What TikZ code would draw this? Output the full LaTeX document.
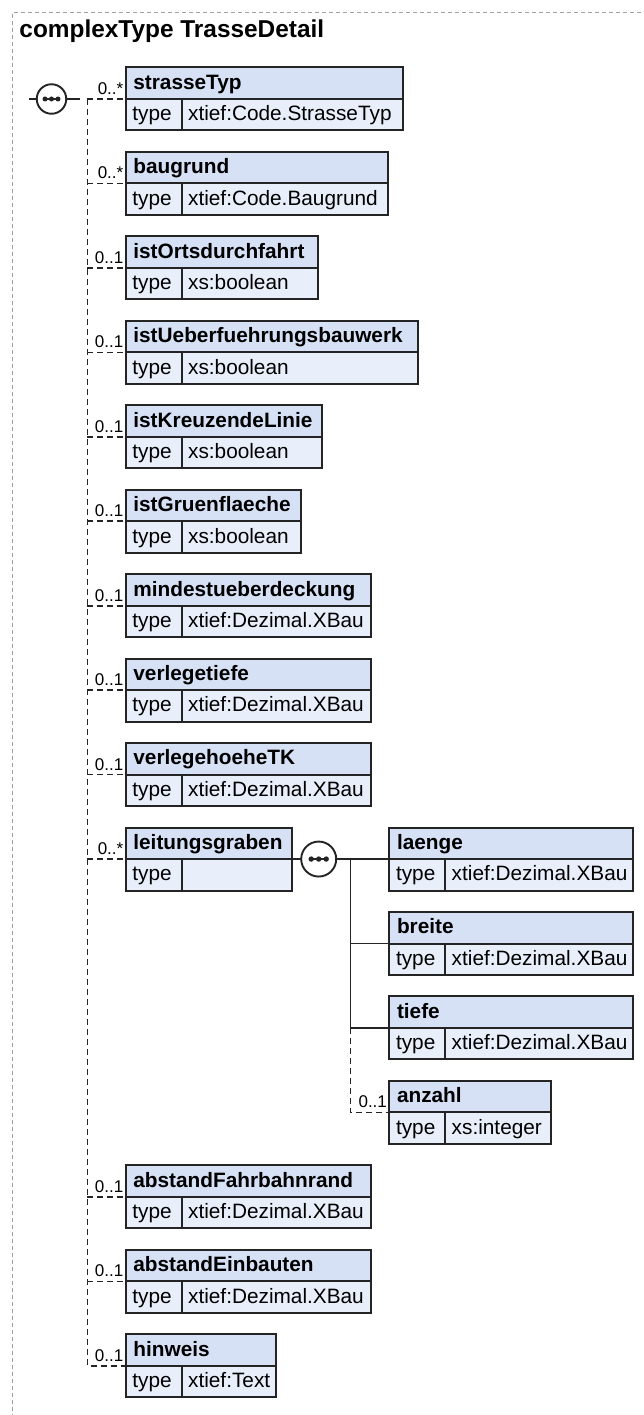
\documentclass[tikz,border=0pt]{standalone}
\usepackage{fontspec}
\setmainfont{Liberation Sans}
\definecolor{hdrc}{HTML}{D6E1F6}
\definecolor{typc}{HTML}{E9EFFA}
\definecolor{boxc}{HTML}{242424}
\definecolor{framec}{HTML}{A0A0A0}
\tikzset{
 hdrbox/.style={rectangle, draw=boxc, fill=hdrc, line width=2pt, anchor=north west, minimum height=31.5pt, inner sep=0pt, outer sep=0pt},
 typbox/.style={hdrbox, fill=typc},
 nametxt/.style={anchor=base west, inner sep=0pt, font=\fontsize{20.8}{25}\selectfont\bfseries},
 typetxt/.style={anchor=base west, inner sep=0pt, font=\fontsize{20.8}{25}\selectfont},
 multtxt/.style={anchor=base east, inner sep=0pt, font=\fontsize{17}{20}\selectfont},
 optc/.style={draw=boxc, line width=1.6pt, dash pattern=on 6pt off 4pt},
 reqc/.style={draw=boxc, line width=1.8pt},
 seqsym/.style={circle, draw=boxc, fill=white, line width=1.9pt, inner sep=0pt, outer sep=0pt},
 framel/.style={draw=framec, line width=1pt, dash pattern=on 4pt off 3pt},
}
% #1 id, #2 left, #3 top, #4 right, #5 name, #6 type
\newcommand\elembox[6]{%
  \node[hdrbox, minimum width={#4-#2}] (#1) at (#2,#3) {};
  \node[typbox, minimum width=56pt] (#1t) at (#1.south west) {};
  \node[typbox, minimum width={#4-#2-56}] (#1v) at (#1t.north east) {};
  \node[nametxt] (#1n) at ([xshift=7.5pt,yshift=-21.8pt]#1.north west) {#5};
  \node[typetxt] (#1k) at ([xshift=6.5pt,yshift=-21.8pt]#1t.north west) {type};
  \node[typetxt] (#1x) at ([xshift=6.2pt,yshift=-21.8pt]#1v.north west) {#6};
}
\newcommand\multlab[2]{%
  \node[multtxt] (#1m) at ([xshift=-2.2pt,yshift=4.6pt]#1.south west) {#2};
}
\newcommand\seqdots[3]{%
  \draw[boxc, line width=1.6pt] ([xshift=-#2]#1.center) -- ([xshift=#2]#1.center);
  \fill[boxc] ([xshift=-#2]#1.center) circle (#3);
  \fill[boxc] (#1.center) circle (#3);
  \fill[boxc] ([xshift=#2]#1.center) circle (#3);
}
\begin{document}
\begin{tikzpicture}[x=1pt,y=-1pt]
\useasboundingbox (0,0) rectangle (643,1415);
\clip (0,0) rectangle (643,1415);
\fill[white] (0,0) rectangle (643,1415);
\draw[framel] (12,1425) -- (12,13) -- (655,13);
\node[anchor=base west, inner sep=0pt, font=\fontsize{24.4}{29}\selectfont\bfseries] (title) at (19.3,38) {complexType TrasseDetail};

% main column
\elembox{strasseTyp}{125.7}{67.5}{403}{strasseTyp}{xtief:Code.StrasseTyp}
\elembox{baugrund}{125.7}{151.95}{388}{baugrund}{xtief:Code.Baugrund}
\elembox{istOrts}{125.7}{236.4}{317.7}{istOrtsdurchfahrt}{xs:boolean}
\elembox{istUeber}{125.7}{320.85}{417.7}{istUeberfuehrungsbauwerk}{xs:boolean}
\elembox{istKreuz}{125.7}{405.3}{322}{istKreuzendeLinie}{xs:boolean}
\elembox{istGruen}{125.7}{489.75}{300.7}{istGruenflaeche}{xs:boolean}
\elembox{mindest}{125.7}{574.2}{370.7}{mindestueberdeckung}{xtief:Dezimal.XBau}
\elembox{vtiefe}{125.7}{658.65}{370.7}{verlegetiefe}{xtief:Dezimal.XBau}
\elembox{vhoehe}{125.7}{743.1}{370.7}{verlegehoeheTK}{xtief:Dezimal.XBau}
\elembox{leit}{125.7}{827.55}{292.3}{leitungsgraben}{}
\elembox{abstFahr}{125.7}{1165.35}{370.7}{abstandFahrbahnrand}{xtief:Dezimal.XBau}
\elembox{abstEin}{125.7}{1249.8}{370.7}{abstandEinbauten}{xtief:Dezimal.XBau}
\elembox{hinweis}{125.7}{1334.25}{275.7}{hinweis}{xtief:Text}

% child column
\elembox{laenge}{389.3}{827.55}{633.3}{laenge}{xtief:Dezimal.XBau}
\elembox{breite}{389.3}{912}{633.3}{breite}{xtief:Dezimal.XBau}
\elembox{tiefe}{389.3}{996.45}{633.3}{tiefe}{xtief:Dezimal.XBau}
\elembox{anzahl}{389.3}{1080.9}{551}{anzahl}{xs:integer}

% main sequence
\coordinate (cin) at (29,99);
\coordinate (cout) at (80,99);
\coordinate (trk) at (87.3,99);
\node[seqsym, minimum size=29.5pt] (seq1) at (51.5,99) {};
\seqdots{seq1}{6.5pt}{2.5pt}
\draw[reqc] (cin) -- (seq1.west);
\draw[reqc] (seq1.east) -- (cout);
\draw[optc] (trk) |- (hinweis.south west);
\draw[optc] (trk) -- (strasseTyp.south west);
\foreach \e in {baugrund,istOrts,istUeber,istKreuz,istGruen,mindest,vtiefe,vhoehe,leit,abstFahr,abstEin}{
  \draw[optc] (trk |- \e.south west) -- (\e.south west);
}

% leitungsgraben sequence
\node[seqsym, minimum size=35pt] (seq2) at ([xshift=26.4pt]leit.south east) {};
\seqdots{seq2}{7.5pt}{2.7pt}
\coordinate (trk2) at (350.5,0);
\draw[reqc] (leit.south east) -- (seq2.west);
\draw[reqc] (seq2.east) -- (laenge.south west);
\draw[reqc] (trk2 |- laenge.south west) |- (tiefe.south west);
\draw[reqc] (trk2 |- breite.south west) -- (breite.south west);
\draw[optc] (trk2 |- tiefe.south west) |- (anzahl.south west);

% multiplicities
\multlab{strasseTyp}{0..*}
\multlab{baugrund}{0..*}
\multlab{istOrts}{0..1}
\multlab{istUeber}{0..1}
\multlab{istKreuz}{0..1}
\multlab{istGruen}{0..1}
\multlab{mindest}{0..1}
\multlab{vtiefe}{0..1}
\multlab{vhoehe}{0..1}
\multlab{leit}{0..*}
\multlab{abstFahr}{0..1}
\multlab{abstEin}{0..1}
\multlab{hinweis}{0..1}
\multlab{anzahl}{0..1}
\end{tikzpicture}
\end{document}
